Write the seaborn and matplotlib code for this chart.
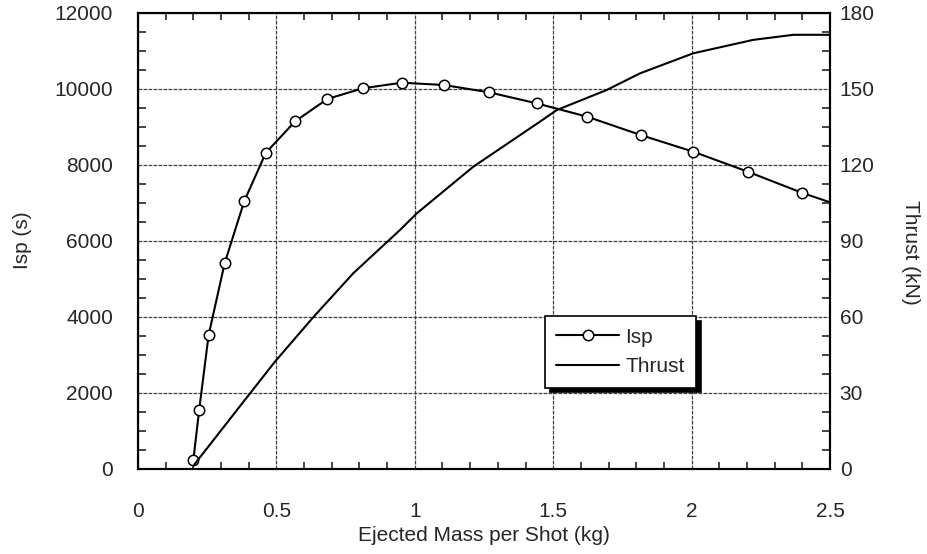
import matplotlib
matplotlib.use("Agg")
import matplotlib.pyplot as plt
from matplotlib.ticker import MultipleLocator
import seaborn as sns

# Isp curve: marked points plus the line end at the right edge
isp_mass = [0.20, 0.221, 0.255, 0.313, 0.384, 0.462, 0.568, 0.684, 0.812, 0.953,
            1.105, 1.268, 1.44, 1.623, 1.816, 2.006, 2.203, 2.398, 2.5]
isp_vals = [224, 1540, 3505, 5400, 7040, 8310, 9137, 9724, 10005, 10153,
            10092, 9900, 9610, 9258, 8776, 8337, 7811, 7258, 7005]
n_marked = 18

thrust_mass = [0.203, 0.405, 0.495, 0.633, 0.778, 0.947, 1.007, 1.211, 1.452,
               1.513, 1.693, 1.814, 2.006, 2.223, 2.368, 2.488, 2.5]
thrust_vals = [1.5, 29.7, 42.2, 59.7, 77.1, 94.2, 100.7, 119.1, 136.9,
               141.5, 149.4, 156.0, 163.9, 169.2, 171.2, 171.2, 171.2]

sns.set_style("ticks")
plt.rcParams['font.family'] = ['Liberation Sans', 'DejaVu Sans']
fs = 15

fig = plt.figure(figsize=(9.27, 5.54), dpi=100)
ax = fig.add_axes([138 / 927, 1 - 468.5 / 554, 692 / 927, 456 / 554])
ax2 = ax.twinx()

sns.lineplot(x=isp_mass, y=isp_vals, ax=ax, color='black', lw=1.5, marker='o',
             markersize=7.5, markerfacecolor='white', markeredgecolor='black',
             markeredgewidth=1.1, markevery=list(range(n_marked)), label='Isp',
             legend=False)
sns.lineplot(x=thrust_mass, y=thrust_vals, ax=ax2, color='black', lw=1.5,
             label='Thrust', legend=False)

ax.set_xlim(0, 2.5)
ax.set_ylim(0, 12000)
ax2.set_ylim(0, 180)

ax.xaxis.set_minor_locator(MultipleLocator(0.1))
ax.yaxis.set_major_locator(MultipleLocator(2000))
ax.yaxis.set_minor_locator(MultipleLocator(500))
ax2.yaxis.set_major_locator(MultipleLocator(30))
ax2.yaxis.set_minor_locator(MultipleLocator(7.5))
ax.set_xticks([0, 0.5, 1, 1.5, 2, 2.5])
ax.set_xticklabels(['0', '0.5', '1', '1.5', '2', '2.5'])

ax.grid(which='major', color='0.25', linestyle=(0, (3, 1)), lw=0.9)
ax.set_axisbelow(True)

ax.tick_params(axis='x', which='both', direction='in', top=True, bottom=True,
               labelsize=fs, pad=24, width=1.2)
ax.tick_params(axis='x', which='major', length=0)
ax.tick_params(axis='x', which='minor', length=5)
ax.tick_params(axis='y', which='both', direction='in', left=True, right=False,
               labelsize=fs, pad=18, width=1.2)
ax.tick_params(axis='y', which='major', length=0)
ax.tick_params(axis='y', which='minor', length=6)
ax2.tick_params(axis='y', which='both', direction='in', right=True,
                labelsize=fs, pad=7, width=1.2)
ax2.tick_params(axis='y', which='major', length=0)
ax2.tick_params(axis='y', which='minor', length=6)

for a in (ax, ax2):
    for s in a.spines.values():
        s.set_visible(True)
        s.set_linewidth(1.5)
        s.set_color('black')

ax.set_xlabel('Ejected Mass per Shot (kg)', fontsize=fs)
ax.xaxis.set_label_coords(0.5, -0.127)
ax.set_ylabel('Isp (s)', fontsize=fs)
ax.yaxis.set_label_coords(-0.153, 0.5)
ax2.set_ylabel('Thrust (kN)', fontsize=fs, rotation=270, va='bottom')
ax2.yaxis.set_label_coords(1.102, 0.475)

handles = [ax.lines[0], ax2.lines[0]]
leg = ax2.legend(handles, ['Isp', 'Thrust'], loc='upper left',
                 bbox_to_anchor=(0.588, 0.334), borderaxespad=0, fontsize=fs,
                 frameon=True, fancybox=False, framealpha=1, edgecolor='black',
                 handlelength=3.0, handletextpad=0.3, borderpad=0.55,
                 labelspacing=0.5,
                 shadow={'ox': 3.5, 'oy': -3.5, 'color': 'black', 'alpha': 1})
leg.get_frame().set_linewidth(1.2)

fig.savefig('out.png', dpi=100)
